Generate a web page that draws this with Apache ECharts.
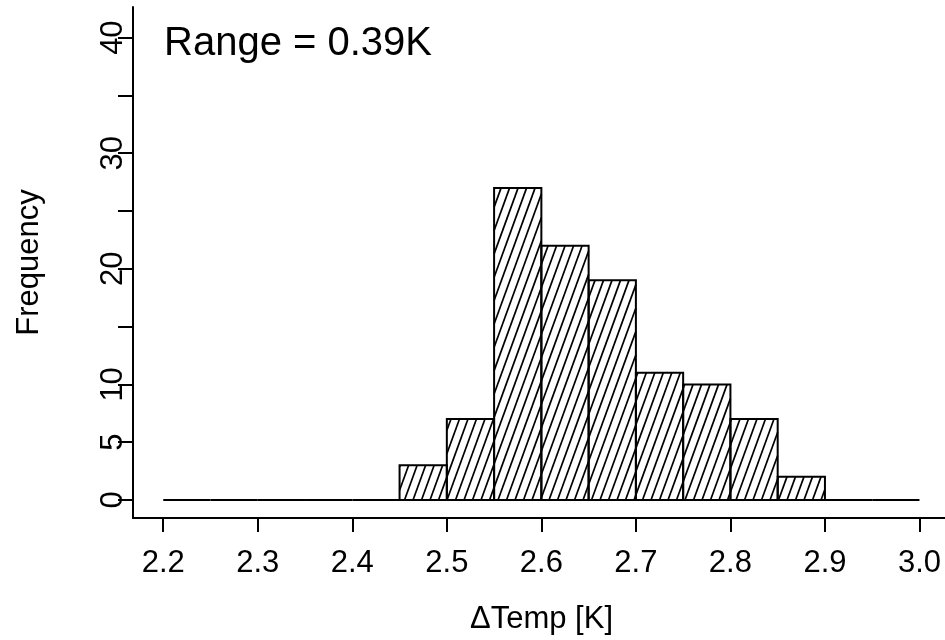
<!DOCTYPE html>
<html>
<head>
<meta charset="utf-8">
<script src="https://cdn.jsdelivr.net/npm/echarts@6/dist/echarts.min.js"></script>
<style>
  html, body { margin: 0; padding: 0; background: #fff; }
  #chart { width: 945px; height: 640px; }
</style>
</head>
<body>
<div id="chart"></div>
<script>
// Histogram bin edges (K) and counts per bin
const binEdges = [2.20, 2.25, 2.30, 2.35, 2.40, 2.45, 2.50, 2.55, 2.60,
                  2.65, 2.70, 2.75, 2.80, 2.85, 2.90, 2.95, 3.00];
const binCounts = [0, 0, 0, 0, 0, 3, 7, 27, 22, 19, 11, 10, 7, 2, 0, 0];

// Axis ticks and labels
const xTicks = [2.2, 2.3, 2.4, 2.5, 2.6, 2.7, 2.8, 2.9, 3.0];
const yTicks = [0, 5, 10, 15, 20, 25, 30, 35, 40];
const yLabels = [0, 5, 10, 20, 30, 40];

const annotation = 'Range = 0.39K';

const FONT = '"Liberation Sans", Helvetica, Arial, sans-serif';

const binData = binCounts.map((c, i) => [binEdges[i], binEdges[i + 1], c]);

// Hatch settings: slope angle and horizontal spacing (px)
const HATCH_ANGLE = 70 * Math.PI / 180;
const HATCH_STEP = 8.5;

function renderBin(params, api) {
  const x0 = api.value(0), x1 = api.value(1), c = api.value(2);
  const pTop = api.coord([x0, c]);
  const pBot = api.coord([x1, 0]);
  const xa = pTop[0], xb = pBot[0], ya = pTop[1], yb = pBot[1];
  const children = [];
  if (yb - ya > 0.5) {
    const k = 1 / Math.tan(HATCH_ANGLE);
    // hatch lines satisfy x + y*k = u
    const uMin = xa + ya * k, uMax = xb + yb * k;
    for (let u = Math.ceil(uMin / HATCH_STEP) * HATCH_STEP; u <= uMax; u += HATCH_STEP) {
      const y1 = Math.max(ya, (u - xb) / k);
      const y2 = Math.min(yb, (u - xa) / k);
      if (y2 - y1 > 0.3) {
        children.push({
          type: 'line',
          shape: { x1: u - y1 * k, y1: y1, x2: u - y2 * k, y2: y2 },
          style: { stroke: '#000', lineWidth: 1.7 }
        });
      }
    }
  }
  children.push({
    type: 'rect',
    shape: { x: xa, y: ya, width: xb - xa, height: yb - ya },
    style: { fill: null, stroke: '#000', lineWidth: 2 }
  });
  return { type: 'group', children: children };
}

const chart = echarts.init(document.getElementById('chart'), null, { renderer: 'canvas' });
chart.setOption({
  backgroundColor: '#fff',
  animation: false,
  grid: { left: 133, right: 0, top: 7, bottom: 122, containLabel: false },
  xAxis: {
    type: 'value',
    min: 2.168, max: 3.027,
    name: '\u0394Temp [K]',
    nameLocation: 'middle',
    nameGap: 86,
    nameTextStyle: { fontFamily: FONT, fontSize: 31, color: '#000', padding: [0, 0, 0, 5] },
    axisLine: { onZero: false, lineStyle: { color: '#000', width: 2 } },
    axisTick: { show: true, length: 14, customValues: xTicks, lineStyle: { color: '#000', width: 2 } },
    axisLabel: {
      customValues: xTicks, margin: 30,
      fontFamily: FONT, fontSize: 31, color: '#000',
      formatter: v => v.toFixed(1)
    },
    splitLine: { show: false }
  },
  yAxis: {
    type: 'value',
    min: -1.56, max: 42.65,
    name: 'Frequency',
    nameLocation: 'middle',
    nameGap: 88,
    nameRotate: 90,
    nameTextStyle: { fontFamily: FONT, fontSize: 31, color: '#000' },
    axisLine: { show: true, lineStyle: { color: '#000', width: 2 } },
    axisTick: { show: true, length: 15, customValues: yTicks, lineStyle: { color: '#000', width: 2 } },
    axisLabel: {
      customValues: yLabels, rotate: 90, margin: 4,
      fontFamily: FONT, fontSize: 31, color: '#000'
    },
    splitLine: { show: false }
  },
  graphic: [{
    type: 'text',
    left: 164, top: 24,
    style: { text: annotation, font: '40px ' + FONT, fill: '#000' }
  }],
  series: [{
    type: 'custom',
    renderItem: renderBin,
    clip: false,
    encode: { x: [0, 1], y: 2 },
    data: binData
  }]
});
</script>
</body>
</html>
